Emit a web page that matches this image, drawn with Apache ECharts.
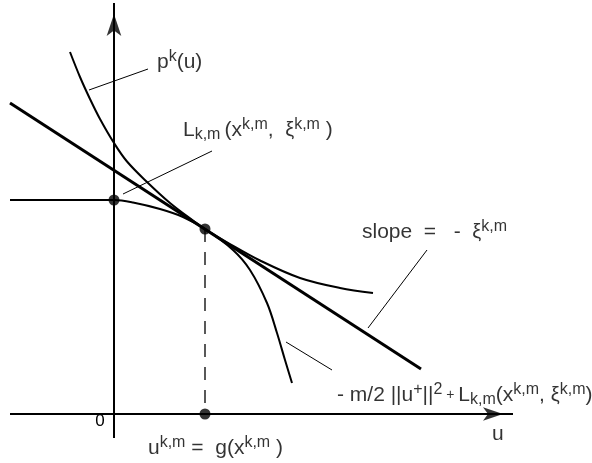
<!DOCTYPE html>
<html>
<head>
<meta charset="utf-8">
<script src="https://cdn.jsdelivr.net/npm/echarts@6/dist/echarts.min.js"></script>
<style>
  html, body { margin: 0; padding: 0; background: #fff; }
</style>
</head>
<body>
<div id="chart" style="width:592px;height:463px;"></div>
<script>
// coordinates: origin where the two axes cross, u to the right, value up
var uAxis = [[-104, 0], [399, 0]];
var vAxis = [[0, -24], [0, 411]];
var tangentLine = [[-104, 311], [307, 45]];
var pCurve = [[-44, 362], [-34, 337], [-24, 315], [-14, 295], [0, 271], [13, 252.5], [33, 232],
              [56, 211], [79, 193.4], [91, 185], [116, 170], [146, 153.5], [186, 136], [226, 126], [259, 121]];
var lowerCurve = [[-104, 214], [0, 214], [19, 211.5], [46, 205], [69, 197], [91, 185], [119, 164],
                  [136, 144], [153, 111], [163, 81], [171, 54], [178, 31]];
var dots = [[0, 214], [91, 185], [91, 0]];
var dropLine = [[91, 185], [91, 0]];
var leaderP = [[-25, 324], [34, 345]];
var leaderL = [[9, 220], [98, 263]];
var leaderSlope = [[313, 164], [254, 86]];
var leaderLower = [[172, 72], [218, 44]];
var originLabel = [-14, -7];

var FONT = 'Liberation Sans, Arial, sans-serif';

function lineSeries(data, width, dash) {
  return {
    type: 'line', data: data, symbol: 'none', silent: true,
    lineStyle: { color: '#000', width: width, type: dash || 'solid' }
  };
}
function curveSeries(data) {
  var s = lineSeries(data, 2);
  s.smooth = 0.35;
  return s;
}

var rich = {
  t: { fontSize: 21, fontFamily: FONT, color: '#000', lineHeight: 26 },
  s: { fontSize: 14, fontFamily: FONT, color: '#000', lineHeight: 26 },
  g: { fontSize: 20, fontFamily: FONT, color: '#000', lineHeight: 26 },
  sup: { fontSize: 16, fontFamily: FONT, color: '#000', lineHeight: 17, verticalAlign: 'top' },
  sub: { fontSize: 16, fontFamily: FONT, color: '#000', lineHeight: 19, verticalAlign: 'bottom' },
  subw: { fontSize: 16, fontFamily: FONT, color: '#000', lineHeight: 19, verticalAlign: 'bottom', padding: [0, 4, 0, 0] }
};

var labels = [
  { value: [43, 352], text: '{t|p}{sup|k}{t|(u)}' },
  { value: [69, 284], text: '{t|L}{subw|k,m}{t|(x}{sup|k,m}{t|,  }{g|ξ}{sup|k,m}{t| )}' },
  { value: [248, 182], text: '{t|slope  =   -  }{g|ξ}{sup|k,m}' },
  { value: [223, 19], text: '{t|- m/2 ||u}{sup|+}{t|||}{sup|2}{s| + }{t|L}{sub|k,m}{t|(x}{sup|k,m}{t|, }{g|ξ}{sup|k,m}{t|)}' },
  { value: [34, -34], text: '{t|u}{sup|k,m}{t| =  g(x}{sup|k,m}{t| )}' },
  { value: [378, -20], text: '{t|u}' }
];

var myChart = echarts.init(document.getElementById('chart'), null, { renderer: 'canvas' });
var options = {
  animation: false,
  backgroundColor: '#fff',
  grid: { left: 0, right: 0, top: 0, bottom: 0 },
  xAxis: { type: 'value', min: -114, max: 478, show: false },
  yAxis: { type: 'value', min: -49, max: 414, show: false },
  series: [
    lineSeries(uAxis, 2),
    lineSeries(vAxis, 2),
    {
      type: 'scatter', silent: true, data: [vAxis[1]],
      symbol: 'arrow', symbolSize: [11, 22], symbolOffset: [0, 11],
      itemStyle: { color: '#000' }
    },
    {
      type: 'scatter', silent: true, data: [uAxis[1]],
      symbol: 'arrow', symbolSize: [10, 20], symbolRotate: -90, symbolOffset: [-10, 0],
      itemStyle: { color: '#000' }
    },
    lineSeries(tangentLine, 3),
    curveSeries(pCurve),
    curveSeries(lowerCurve),
    lineSeries(dropLine, 1.3, [13, 10]),
    lineSeries(leaderP, 1),
    lineSeries(leaderL, 1),
    lineSeries(leaderSlope, 1),
    lineSeries(leaderLower, 1),
    {
      type: 'scatter', silent: true, data: dots, symbolSize: 11, z: 5,
      itemStyle: { color: '#000' }
    },
    {
      type: 'scatter', silent: true, symbolSize: 0,
      data: labels.map(function (d) {
        return { value: d.value, label: { formatter: d.text } };
      }),
      label: { show: true, position: 'right', distance: 0, rich: rich }
    }
  ]
};
myChart.setOption(options);

// origin "0"
var p0 = myChart.convertToPixel({ gridIndex: 0 }, originLabel);
myChart.setOption({
  graphic: [{
    type: 'text', x: p0[0], y: p0[1], silent: true,
    style: { text: '0', font: '17px ' + FONT, fill: '#000', align: 'center', verticalAlign: 'middle' }
  }]
});
</script>
</body>
</html>
